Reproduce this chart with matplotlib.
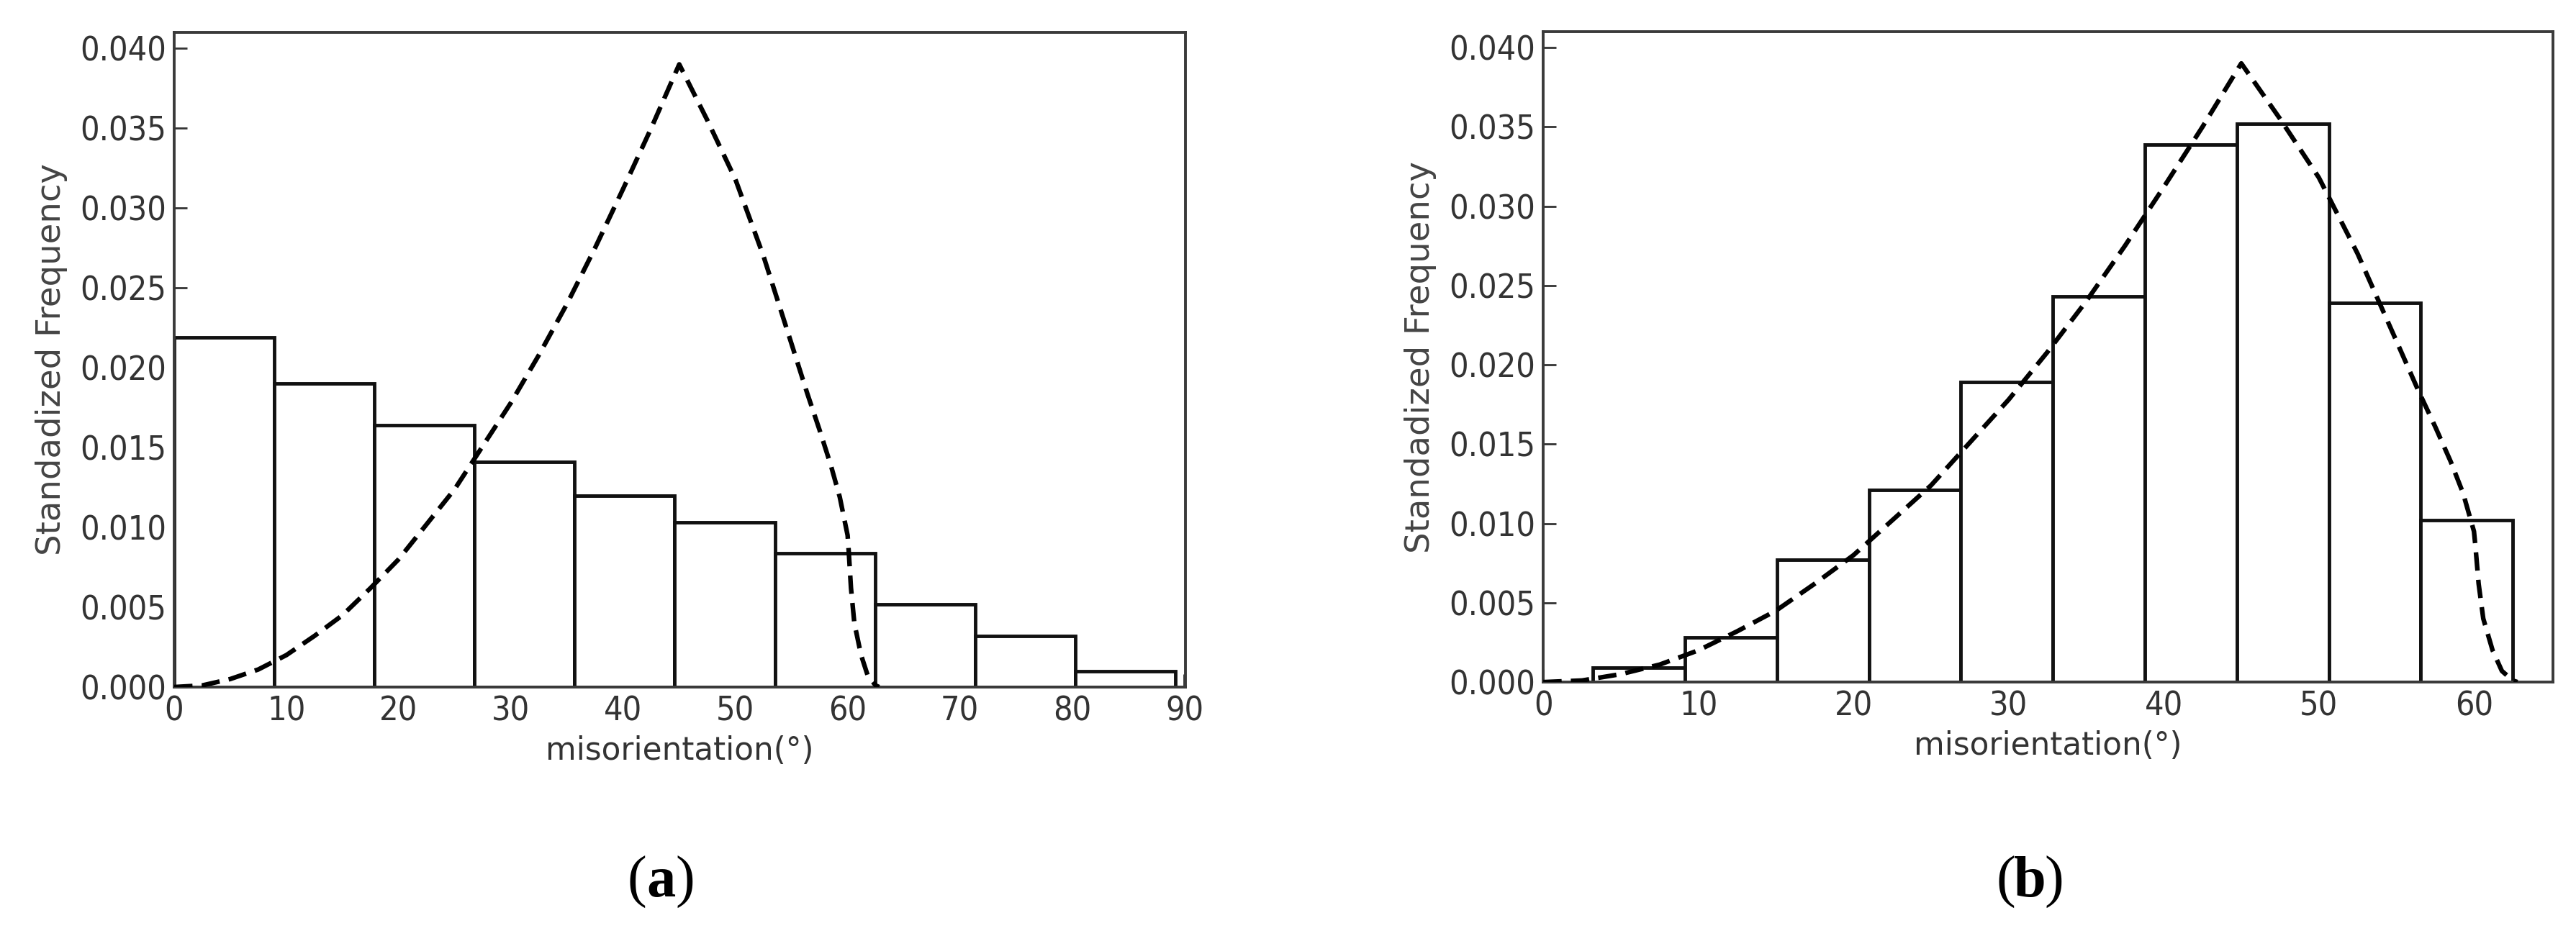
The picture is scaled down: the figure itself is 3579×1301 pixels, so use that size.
import numpy as np
import matplotlib
matplotlib.use('Agg')
import matplotlib.pyplot as plt

# histogram (a): misorientation of all boundaries
edges_a = [0, 8.92, 17.84, 26.76, 35.68, 44.6, 53.52, 62.44, 71.36, 80.28, 89.2]
freq_a = [0.0219, 0.0190, 0.0164, 0.0141, 0.0120, 0.0103, 0.0084, 0.0052, 0.0032, 0.0010]

# histogram (b)
edges_b = [3.2, 9.13, 15.06, 20.99, 26.92, 32.85, 38.78, 44.71, 50.64, 56.57, 62.5]
freq_b = [0.0009, 0.0028, 0.0077, 0.0121, 0.0189, 0.0243, 0.0339, 0.0352, 0.0239, 0.0102]

# Mackenzie random distribution
mk_angle = [0, 2.5, 5, 7.5, 10, 12.5, 15, 17.5, 20, 22.5, 25, 27.5, 30, 32.5, 35,
            37.5, 40, 42.5, 45, 47.5, 50, 52.5, 55, 56.4, 57.5, 58.5, 59.3, 60,
            60.1, 60.3, 60.6, 61.2, 61.8, 62.5, 62.8]
mk_freq = [0, 0.0001, 0.0005, 0.0011, 0.0020, 0.0032, 0.0045, 0.0062, 0.0080,
           0.0102, 0.0124, 0.0151, 0.0178, 0.0208, 0.0240, 0.0275, 0.0312, 0.0350,
           0.0390, 0.0355, 0.0318, 0.0270, 0.0215, 0.0184, 0.0161, 0.0139, 0.0119,
           0.0095, 0.0085, 0.0062, 0.0040, 0.0020, 0.0007, 0.0001, 0.0]

yticks = [0.000, 0.005, 0.010, 0.015, 0.020, 0.025, 0.030, 0.035, 0.040]
txt = '#333333'

fig = plt.figure(figsize=(35.79, 13.01), dpi=100)
ax_a = fig.add_axes([0.0676, 0.2660, 0.3926, 0.6994])
ax_b = fig.add_axes([0.5991, 0.2713, 0.3920, 0.6949])


def draw_panel(ax, edges, freq, xmax, xticks):
    left = np.array(edges[:-1])
    width = np.diff(edges)
    ax.bar(left, freq, width=width, align='edge', facecolor='white',
           edgecolor='#111111', linewidth=3.5, zorder=2)
    ax.plot(mk_angle, mk_freq, color='black', linestyle=(0, (4, 2)),
            linewidth=4.6, zorder=3)
    ax.set_xlim(0, xmax)
    ax.set_ylim(0, 0.041)
    ax.set_xticks(xticks)
    ax.set_yticks(yticks)
    ax.set_yticklabels(['%.3f' % v for v in yticks])
    ax.tick_params(direction='in', length=13, width=2, colors='#333333',
                   labelsize=33.5, labelcolor=txt, pad=8,
                   top=False, right=False)
    for lab in ax.get_xticklabels() + ax.get_yticklabels():
        lab.set_fontstretch('condensed')
    for sp in ax.spines.values():
        sp.set_linewidth(2.8)
        sp.set_color('#3a3a3a')
    ax.set_xlabel('misorientation(°)', fontsize=31.5, color=txt, labelpad=8)
    ax.set_ylabel('Standadized Frequency', fontsize=33.5, color='#444444', labelpad=12)


draw_panel(ax_a, edges_a, freq_a, 90.1, list(range(0, 91, 10)))
draw_panel(ax_b, edges_b, freq_b, 65.1, list(range(0, 61, 10)))

# panel letters: regular parentheses around a bold letter
for xc, letter in [(0.2565, 'a'), (0.7880, 'b')]:
    yc = 0.057
    fig.text(xc, yc, letter, fontsize=58, family='Liberation Serif',
             fontweight='bold', ha='center', va='center')
    fig.text(xc - 0.0056, yc, '(', fontsize=58, family='Liberation Serif',
             ha='right', va='center')
    fig.text(xc + 0.0056, yc, ')', fontsize=58, family='Liberation Serif',
             ha='left', va='center')

fig.savefig('out.png', dpi=100)
